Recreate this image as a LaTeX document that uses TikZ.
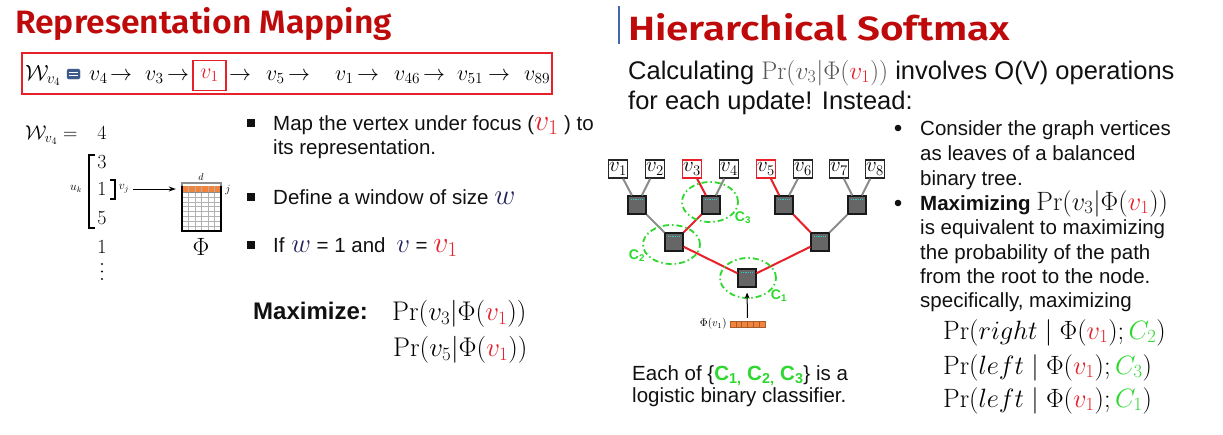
\RequirePackage{fix-cm}
\documentclass[tikz,border=0pt]{standalone}
\usepackage{fontspec}
\usepackage{graphicx}
\usetikzlibrary{arrows.meta,shapes.geometric}
\newfontfamily\arial{Liberation Sans}
\newfontfamily\headfont{Fira Sans SemiBold}
\definecolor{titlered}{HTML}{BE0A0A}
\definecolor{vred}{HTML}{E8202A}
\definecolor{cgreen}{HTML}{2ED82E}
\definecolor{edgegray}{HTML}{8C8C8C}
\definecolor{nodegray}{HTML}{666666}
\definecolor{stripe}{HTML}{33C6C6}
\definecolor{rowor}{HTML}{F0843C}
\definecolor{sepblue}{HTML}{4466AA}
\definecolor{ink}{HTML}{111111}
\definecolor{wblue}{HTML}{22225A}
\definecolor{iconblue}{HTML}{3C5A8A}
\begin{document}
\begin{tikzpicture}[x=1pt,y=-1pt,
  body/.style={inner sep=0pt, anchor=base west, text=ink, font=\arial\fontsize{20.5}{24}\selectfont},
  big/.style={inner sep=0pt, anchor=base west, text=ink, font=\arial\fontsize{25.5}{30}\selectfont},
  seq/.style={inner sep=0pt, anchor=base west, font=\fontsize{22}{22}\selectfont},
  vec/.style={inner sep=0pt, anchor=base, font=\fontsize{20}{20}\selectfont},
  eqn/.style={inner sep=0pt, anchor=base west, font=\fontsize{26.5}{26.5}\selectfont},
  leaf/.style={draw=black!85, line width=1.3pt, fill=white, minimum width=19pt, minimum height=18pt, inner sep=0pt, font=\fontsize{21}{21}\selectfont},
  hid/.style={draw=black!90, line width=1.2pt, fill=nodegray, minimum size=18pt, inner sep=0pt,
    path picture={\draw[stripe, line width=1.6pt, dash pattern=on 1pt off 0.8pt]
      ([xshift=-6pt,yshift=-3.5pt]path picture bounding box.north) -- ([xshift=6pt,yshift=-3.5pt]path picture bounding box.north);}},
  gedge/.style={edgegray, line width=2pt},
  redge/.style={vred, line width=2pt},
  clf/.style={ellipse, draw=cgreen, line width=1.8pt, dash pattern=on 6pt off 3pt on 1.5pt off 3pt, inner sep=0pt, minimum width=56pt, minimum height=40pt},
  clab/.style={inner sep=0pt, text=cgreen, font=\arial\bfseries\fontsize{14}{14}\selectfont},
]
\useasboundingbox[fill=white] (0,0) rectangle (1223,434);

% ---------- left: representation mapping ----------
\node[inner sep=0pt, anchor=base west, text=titlered] (ltitle) at (15,33)
  {\resizebox{377pt}{26pt}{\headfont Representation Mapping}};

% random walk sequence
\node[draw=vred, line width=1.4pt, minimum width=530pt, minimum height=41pt, inner sep=0pt] (frame) at (287,73.5) {};
\node[seq] (wv) at (25,80) {$\mathcal{W}_{v_4}$};
\filldraw[iconblue, rounded corners=1.5pt] (67,69) rectangle (80,79);
\draw[white, line width=1pt] (69,72.3) -- (78,72.3) (69,75.7) -- (78,75.7);
\node[seq] (s1) at (89,80) {$v_4$};     \node[seq] (a1) at (110,80) {$\rightarrow$};
\node[seq] (s2) at (145,80) {$v_3$};    \node[seq] (a2) at (167,80) {$\rightarrow$};
\node[draw=vred, line width=1.3pt, minimum width=33pt, minimum height=30pt, inner sep=0pt,
      font=\fontsize{22}{22}\selectfont, text=vred] (focus) at (209.5,75.5) {$v_1$};
\node[seq] (a3) at (229,80) {$\rightarrow$};
\node[seq] (s4) at (266,80) {$v_5$};    \node[seq] (a4) at (288,80) {$\rightarrow$};
\node[seq] (s5) at (335,80) {$v_1$};    \node[seq] (a5) at (357,80) {$\rightarrow$};
\node[seq] (s6) at (394,80) {$v_{46}$}; \node[seq] (a6) at (423,80) {$\rightarrow$};
\node[seq] (s7) at (457,80) {$v_{51}$}; \node[seq] (a7) at (488,80) {$\rightarrow$};
\node[seq] (s8) at (524,80) {$v_{89}$};

% window vector
\node[inner sep=0pt, anchor=base west, font=\fontsize{20}{20}\selectfont] (weq) at (25,139) {$\mathcal{W}_{v_4} =$};
\node[vec] (e4) at (102,139.5) {$4$};
\node[vec] (e3) at (102,168.5) {$3$};
\node[vec] (e1) at (102,195.5) {$1$};
\node[vec] (e5) at (102,224.5) {$5$};
\node[vec] (e6) at (102,253.5) {$1$};
\foreach \d in {264,271.5,279} \fill[ink] (102,\d) circle (1.1pt);
\draw[line width=1.3pt] (95,155) -- (89,155) -- (89,228) -- (95,228);
\draw[line width=1.3pt] (110,180) -- (115,180) -- (115,199) -- (110,199);
\node[inner sep=0pt, font=\fontsize{12}{12}\selectfont] (uk) at (76,189) {$u_k$};
\node[inner sep=0pt, font=\fontsize{12}{12}\selectfont] (vj) at (124,189) {$v_j$};

% embedding matrix
\node[inner sep=0pt, minimum width=39pt, minimum height=45pt] (mat) at (201.5,208.5) {};
\fill[rowor] (182,186) rectangle (221,192);
\foreach \c in {1,...,5} \draw[black!30, line width=0.5pt] (182+6.5*\c,186) -- (182+6.5*\c,231);
\foreach \r in {1,...,7} \draw[black!30, line width=0.5pt] (182,192+4.875*\r) -- (221,192+4.875*\r);
\draw[black!45, line width=0.6pt] (182,192) -- (221,192);
\draw[line width=1.8pt] (182,186) -- (182,231) -- (221,231) -- (221,186);
\draw[black!45, line width=1.5pt] (182,186) -- (182,183) -- (221,183) -- (221,186);
\node[inner sep=0pt, font=\fontsize{10}{10}\selectfont] (dlab) at (201,177) {$d$};
\node[inner sep=0pt, font=\fontsize{11}{11}\selectfont] (jlab) at (228,190) {$j$};
\node[inner sep=0pt, font=\fontsize{25}{25}\selectfont] (phi) at (201,247) {$\Phi$};
\draw[-{Stealth[length=7pt,width=5pt]}, line width=1pt, shorten <=4pt, shorten >=6pt]
  (vj.east) -- (vj.east -| mat.west);

% bullets
\fill[ink] (247,119) rectangle (255,127);
\fill[ink] (247,193) rectangle (255,201);
\fill[ink] (247,241) rectangle (255,249);
\node[body] (b1a) at (273,130) {Map the vertex under focus ({\fontsize{30}{30}\selectfont\color{vred}$v_1$} ) to};
\node[body] (b1b) at (273,154) {its representation.};
\node[body] (b2) at (273,204) {Define a window of size {\fontsize{29}{29}\selectfont\color{wblue}$w$}};
\node[body] (b3) at (273,252) {If \hspace{1pt}{\fontsize{27}{27}\selectfont\color{wblue}$w$} = 1 and \hspace{5pt}{\fontsize{27}{27}\selectfont\color{wblue}$v$} = {\fontsize{30}{30}\selectfont\color{vred}$v_1$}};

\node[inner sep=0pt, anchor=base west, text=ink, font=\arial\bfseries\fontsize{24}{24}\selectfont] (maxl) at (253,319) {Maximize:};
\node[inner sep=0pt, anchor=base west, font=\fontsize{27}{27}\selectfont] (max1) at (392,320) {$\Pr(v_3|\Phi({\color{vred}v_1}))$};
\node[inner sep=0pt, anchor=base west, font=\fontsize{27}{27}\selectfont] (max2) at (393,356) {$\Pr(v_5|\Phi({\color{vred}v_1}))$};

% ---------- right: hierarchical softmax ----------
\draw[sepblue, line width=1.5pt] (619,6) -- (619,44);
\node[inner sep=0pt, anchor=base west, text=titlered] (rtitle) at (628,40)
  {\resizebox{382pt}{27pt}{\headfont Hierarchical Softmax}};

\node[big] (calc1) at (628,79) {Calculating {\fontsize{25.5}{25.5}\selectfont\color{black!65}$\Pr(v_3|\Phi({\color{vred}v_1}))$} involves O(V) operations};
\node[big] (calc2) at (628,109) {for each update! Instead:};

% binary tree
\node[leaf] (v1) at (618,169) {$v_1$};
\node[leaf] (v2) at (655,169) {$v_2$};
\node[leaf, draw=vred] (v3) at (692,169) {$v_3$};
\node[leaf] (v4) at (729,169) {$v_4$};
\node[leaf, draw=vred] (v5) at (766,169) {$v_5$};
\node[leaf] (v6) at (803,169) {$v_6$};
\node[leaf] (v7) at (839,169) {$v_7$};
\node[leaf] (v8) at (875,169) {$v_8$};
\node[hid] (h1) at (637,205) {};
\node[hid] (h2) at (711,205) {};
\node[hid] (h3) at (784,205) {};
\node[hid] (h4) at (857,205) {};
\node[hid] (g1) at (674,242) {};
\node[hid] (g2) at (820,242) {};
\node[hid] (root) at (747,278) {};

\draw[gedge] (v1) -- (h1);
\draw[gedge] (v2) -- (h1);
\draw[gedge] (v4) -- (h2);
\draw[gedge] (v6) -- (h3);
\draw[gedge] (v7) -- (h4);
\draw[gedge] (v8) -- (h4);
\draw[gedge] (h1) -- (g1);
\draw[gedge] (h4) -- (g2);
\draw[redge] (v3) -- (h2);
\draw[redge] (h2) -- (g1);
\draw[redge] (g1) -- (root);
\draw[redge] (root) -- (g2);
\draw[redge] (g2) -- (h3);
\draw[redge] (h3) -- (v5);

\node[clf] (c3) at (710,202) {};
\node[clf, minimum height=39pt, minimum width=57pt] (c2) at (671.5,244.5) {};
\node[clf] (c1) at (748,278) {};
\node[clab] (c3l) at (743,218) {C\textsubscript{3}};
\node[clab] (c2l) at (637,256) {C\textsubscript{2}};
\node[clab] (c1l) at (779,296) {C\textsubscript{1}};

% input embedding
\node[inner sep=0pt, minimum width=35pt, minimum height=6pt] (phibar) at (747.5,324) {};
\foreach \k in {0,...,5}
  \filldraw[fill=rowor, draw=rowor!70!black, line width=0.5pt] (730+5.833*\k,321) rectangle (730+5.833*\k+5.833,327);
\node[inner sep=0pt, anchor=east, font=\fontsize{11}{11}\selectfont] (philab) at ([xshift=-3pt]phibar.west) {$\Phi(v_1)$};
\draw[-{Stealth[length=6pt,width=5pt]}, line width=1pt, shorten <=3pt, shorten >=5pt] (phibar.north) -- (root.south);

% right-hand bullets
\fill[ink] (898,128) circle (3.3pt);
\fill[ink] (898,203) circle (3.3pt);
\node[body] (r1) at (920,135) {Consider the graph vertices};
\node[body] (r2) at (920,160) {as leaves of a balanced};
\node[body] (r3) at (920,185) {binary tree.};
\node[body] (r4) at (920,210) {\textbf{Maximizing} {\fontsize{26.5}{26.5}\selectfont$\Pr(v_3|\Phi({\color{vred}v_1}))$}};
\node[body] (r5) at (920,234) {is equivalent to maximizing};
\node[body] (r6) at (920,259) {the probability of the path};
\node[body] (r7) at (920,283) {from the root to the node.};
\node[body] (r8) at (920,307) {specifically, maximizing};
\node[eqn] (q1) at (943,339) {$\Pr(right \mid \Phi({\color{vred}v_1}); {\color{cgreen}C_2})$};
\node[eqn] (q2) at (943,374) {$\Pr(left \mid \Phi({\color{vred}v_1}); {\color{cgreen}C_3})$};
\node[eqn] (q3) at (943,407) {$\Pr(left \mid \Phi({\color{vred}v_1}); {\color{cgreen}C_1})$};

\node[body] (cl1) at (632,380) {Each of \{{\bfseries\color{cgreen}C\textsubscript{1,} C\textsubscript{2,} C\textsubscript{3}}\} is a};
\node[body] (cl2) at (632,402) {logistic binary classifier.};
\end{tikzpicture}
\end{document}
